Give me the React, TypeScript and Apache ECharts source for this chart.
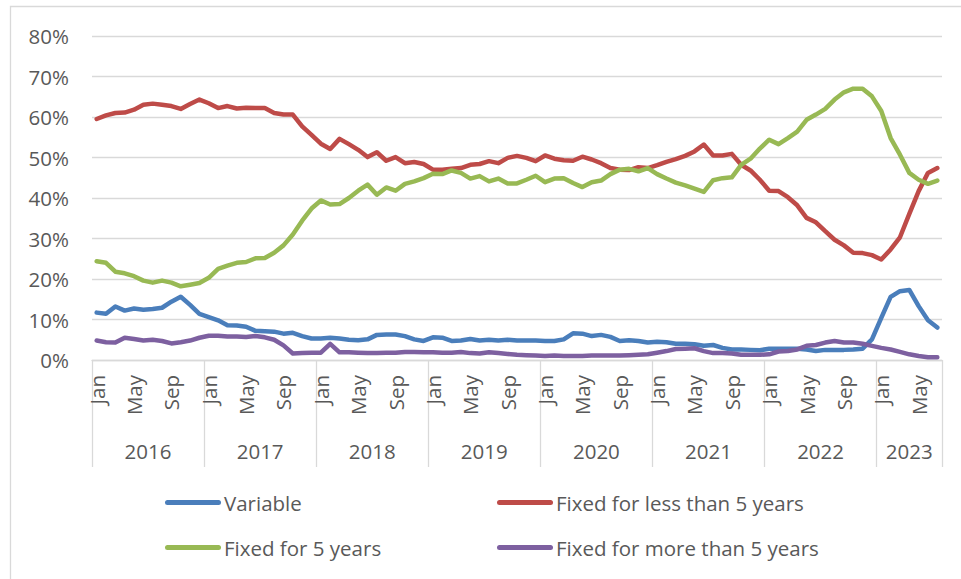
import React, { useEffect, useRef } from "react";
import * as echarts from "echarts";

const monthNames = ["Jan", "Feb", "Mar", "Apr", "May", "Jun", "Jul", "Aug", "Sep", "Oct", "Nov", "Dec"];
const years = ["2016", "2017", "2018", "2019", "2020", "2021", "2022", "2023"];
const monthsInYear = [12, 12, 12, 12, 12, 12, 12, 7];
const yTicks = [0, 10, 20, 30, 40, 50, 60, 70, 80];

const variable = [
  11.7, 11.4, 13.2, 12.2, 12.7, 12.4, 12.6, 12.9, 14.4, 15.6, 13.6, 11.4,
  10.6, 9.8, 8.6, 8.5, 8.2, 7.2, 7.1, 7.0, 6.5, 6.7, 5.9, 5.3,
  5.3, 5.5, 5.3, 5.0, 4.9, 5.1, 6.2, 6.3, 6.3, 5.9, 5.1, 4.7,
  5.6, 5.5, 4.7, 4.8, 5.2, 4.8, 5.0, 4.8, 5.0, 4.8, 4.8, 4.8,
  4.7, 4.7, 5.1, 6.6, 6.5, 5.9, 6.2, 5.7, 4.7, 4.9, 4.7, 4.3,
  4.5, 4.4, 4.0, 4.0, 3.9, 3.5, 3.7, 3.0, 2.6, 2.6, 2.5, 2.4,
  2.8, 2.8, 2.8, 2.8, 2.6, 2.2, 2.5, 2.5, 2.5, 2.6, 2.8, 5.1,
  10.4, 15.6, 17.0, 17.3, 13.3, 9.8, 8.0,
];

const fixedLess5 = [
  59.5, 60.4, 61.0, 61.1, 61.8, 63.0, 63.3, 63.0, 62.7, 62.0, 63.2, 64.3,
  63.4, 62.2, 62.7, 62.1, 62.3, 62.2, 62.2, 61.0, 60.6, 60.6, 57.7, 55.6,
  53.4, 52.1, 54.6, 53.3, 51.9, 50.1, 51.3, 49.2, 50.1, 48.6, 48.9, 48.4,
  47.0, 47.0, 47.2, 47.4, 48.2, 48.4, 49.1, 48.6, 49.9, 50.4, 49.9, 49.1,
  50.5, 49.7, 49.3, 49.2, 50.2, 49.5, 48.6, 47.4, 47.0, 46.9, 47.6, 47.4,
  48.1, 48.9, 49.6, 50.4, 51.5, 53.2, 50.5, 50.5, 50.9, 48.2, 46.8, 44.5,
  41.8, 41.7, 40.2, 38.2, 35.1, 34.0, 31.8, 29.7, 28.3, 26.5, 26.4, 25.9,
  24.8, 27.3, 30.3, 36.1, 41.7, 46.2, 47.4,
];

const fixed5 = [
  24.4, 24.0, 21.8, 21.4, 20.7, 19.6, 19.1, 19.6, 19.1, 18.2, 18.6, 19.0,
  20.3, 22.5, 23.3, 24.0, 24.2, 25.1, 25.2, 26.5, 28.3, 31.0, 34.4, 37.4,
  39.4, 38.4, 38.5, 40.0, 41.8, 43.3, 40.8, 42.6, 41.8, 43.5, 44.1, 44.9,
  46.0, 45.9, 46.8, 46.2, 44.8, 45.4, 44.1, 44.8, 43.6, 43.6, 44.5, 45.5,
  43.9, 44.8, 44.9, 43.7, 42.7, 43.9, 44.3, 45.9, 47.0, 47.2, 46.6, 47.4,
  45.9, 44.8, 43.8, 43.1, 42.3, 41.5, 44.4, 44.9, 45.1, 48.2, 49.7, 52.2,
  54.4, 53.3, 54.8, 56.4, 59.3, 60.6, 62.0, 64.3, 66.1, 67.0, 67.0, 65.1,
  61.5, 54.8, 50.7, 46.2, 44.5, 43.5, 44.3,
];

const fixedMore5 = [
  4.8, 4.4, 4.3, 5.5, 5.2, 4.8, 5.0, 4.7, 4.1, 4.4, 4.8, 5.5,
  6.0, 6.0, 5.8, 5.8, 5.7, 5.9, 5.6, 5.0, 3.6, 1.6, 1.7, 1.8,
  1.8, 4.0, 1.9, 1.9, 1.8, 1.7, 1.7, 1.8, 1.8, 2.0, 2.0, 1.9,
  1.9, 1.8, 1.8, 2.0, 1.7, 1.6, 1.9, 1.7, 1.5, 1.3, 1.2, 1.1,
  1.0, 1.1, 1.0, 1.0, 1.0, 1.1, 1.1, 1.1, 1.1, 1.2, 1.3, 1.4,
  1.8, 2.2, 2.7, 2.8, 2.9, 2.2, 1.7, 1.7, 1.6, 1.3, 1.3, 1.3,
  1.4, 2.1, 2.2, 2.6, 3.5, 3.7, 4.3, 4.7, 4.3, 4.3, 4.0, 3.5,
  3.0, 2.6, 2.0, 1.4, 1.0, 0.7, 0.7,
];

const seriesNames = ["Variable", "Fixed for less than 5 years", "Fixed for 5 years", "Fixed for more than 5 years"];
const seriesColors = ["#4A7EBB", "#BE4B48", "#98B954", "#7D60A0"];

export default function App() {
  const ref = useRef<HTMLDivElement>(null);

  useEffect(() => {
    if (!ref.current) return;
    const chart = echarts.init(ref.current, null, { renderer: "svg" });

    const categories: string[] = [];
    const yearBounds: number[] = [0];
    const yearCenters: number[] = [];
    let acc = 0;
    years.forEach((y, k) => {
      for (let m = 0; m < monthsInYear[k]; m++) categories.push(monthNames[m] + " " + y);
      yearCenters.push(acc + monthsInYear[k] / 2);
      acc += monthsInYear[k];
      yearBounds.push(acc);
    });
    const total = acc;

    const font = "Open Sans";
    const fs = 20.5;
    const gray = "#595959";
    const lineGray = "#d9d9d9";
    const legendIcon = "path://M2.5,0 L53.5,0 A2.5,2.5 0 0 1 53.5,5 L2.5,5 A2.5,2.5 0 0 1 2.5,0 Z";
    const legendPos = [
      { left: 165, top: 492 },
      { left: 497, top: 492 },
      { left: 165, top: 537 },
      { left: 497, top: 537 },
    ];

    const datasets = [variable, fixedLess5, fixed5, fixedMore5];

    chart.setOption({
      animation: false,
      textStyle: { fontFamily: font },
      graphic: [
        {
          type: "rect",
          silent: true,
          z: -10,
          shape: { x: 10.5, y: 6.5, width: 1200, height: 1000 },
          style: { fill: "none", stroke: lineGray, lineWidth: 1.3 },
        },
      ],
      grid: { left: 92, right: 19, top: 36, bottom: 219, containLabel: false },
      legend: seriesNames.map((n, i) => ({
        data: [n],
        left: legendPos[i].left,
        top: legendPos[i].top,
        icon: legendIcon,
        itemWidth: 56,
        itemHeight: 5,
        itemGap: 0,
        padding: 0,
        selectedMode: false,
        textStyle: { fontSize: fs, color: gray, fontFamily: font, padding: [0, 0, 0, -2] },
      })),
      xAxis: [
        {
          type: "category",
          data: categories,
          boundaryGap: true,
          position: "bottom",
          axisLine: { show: true, lineStyle: { color: lineGray, width: 1.3 } },
          axisTick: { show: false },
          splitLine: { show: false },
          axisLabel: {
            interval: 3,
            rotate: 90,
            margin: 15,
            fontSize: fs,
            color: gray,
            fontFamily: font,
            formatter: (v: string) => v.split(" ")[0],
          },
        },
        {
          type: "value",
          min: 0,
          max: total,
          position: "bottom",
          axisLine: { show: false },
          splitLine: { show: false },
          axisTick: {
            show: true,
            customValues: yearBounds,
            length: 107,
            lineStyle: { color: lineGray, width: 1.3 },
          },
          axisLabel: {
            customValues: yearCenters,
            margin: 80,
            fontSize: fs,
            color: gray,
            fontFamily: font,
            formatter: (v: number) => {
              const idx = yearCenters.findIndex((c) => Math.abs(c - v) < 0.01);
              return idx >= 0 ? years[idx] : "";
            },
          },
        },
      ],
      yAxis: {
        type: "value",
        min: yTicks[0],
        max: yTicks[yTicks.length - 1],
        interval: 10,
        axisLine: { show: false },
        axisTick: { show: false },
        splitLine: { show: true, lineStyle: { color: lineGray, width: 1.3 } },
        axisLabel: { formatter: "{value}%", fontSize: fs, color: gray, margin: 23, fontFamily: font },
      },
      series: seriesNames.map((n, i) => ({
        name: n,
        type: "line",
        xAxisIndex: 0,
        data: datasets[i],
        showSymbol: false,
        symbol: "none",
        color: seriesColors[i],
        lineStyle: { width: 4.5, color: seriesColors[i], cap: "round", join: "round" },
      })),
    });

    return () => chart.dispose();
  }, []);

  return (
    <div
      ref={ref}
      style={{ position: "fixed", left: 0, top: 0, width: 961, height: 579, background: "#fff" }}
    />
  );
}
